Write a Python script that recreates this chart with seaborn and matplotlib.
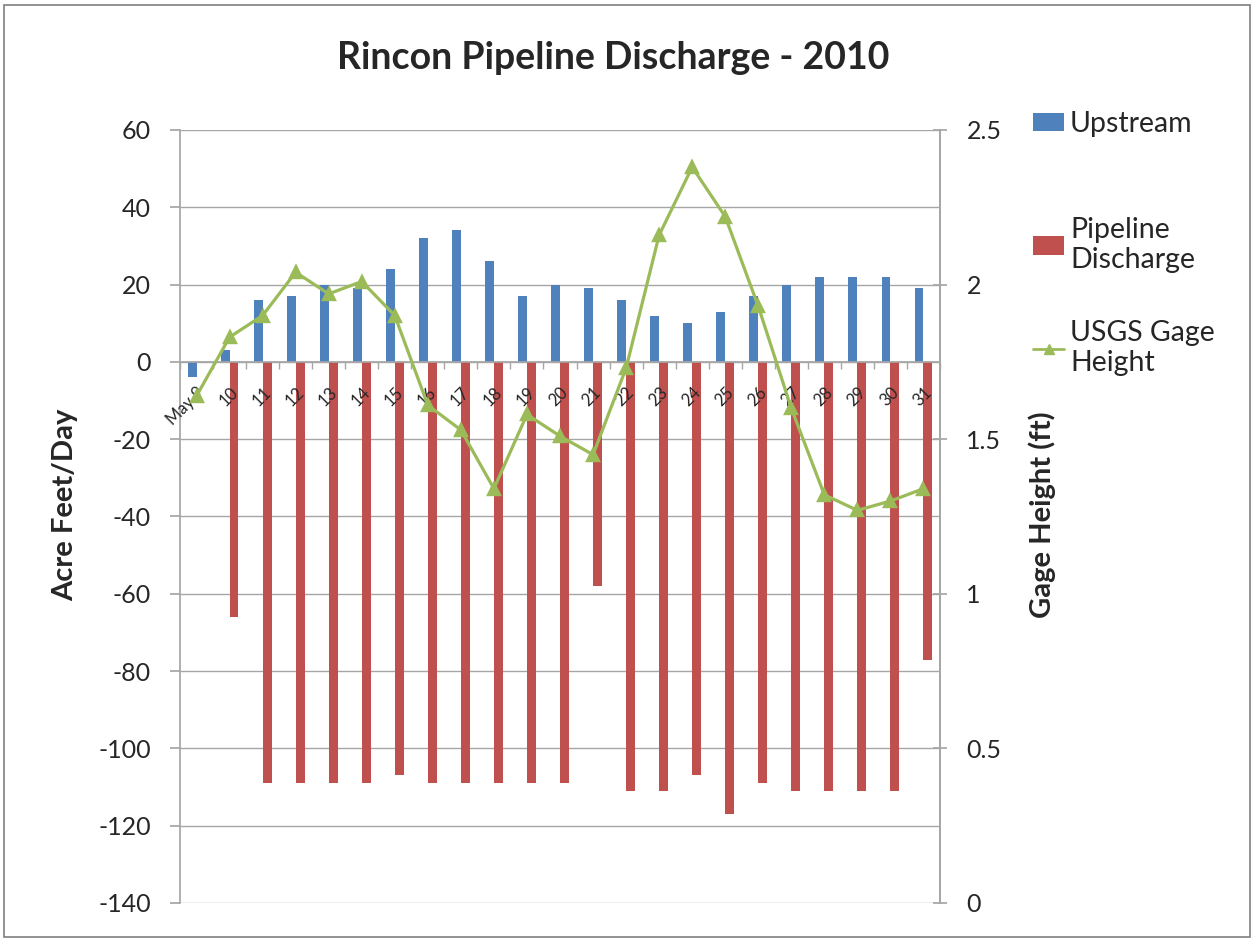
import numpy as np
import pandas as pd
import matplotlib
matplotlib.use("Agg")
import matplotlib.pyplot as plt
import matplotlib.transforms as mtransforms
from matplotlib.patches import Rectangle, Patch
from matplotlib.lines import Line2D
import seaborn as sns

days = ["May 9", "10", "11", "12", "13", "14", "15", "16", "17", "18", "19", "20",
        "21", "22", "23", "24", "25", "26", "27", "28", "29", "30", "31"]
upstream = [-4, 3, 16, 17, 20, 19, 24, 32, 34, 26, 17, 20,
            19, 16, 12, 10, 13, 17, 20, 22, 22, 22, 19]
pipeline = [0, -66, -109, -109, -109, -109, -107, -109, -109, -109, -109, -109,
            -58, -111, -111, -107, -117, -109, -111, -111, -111, -111, -77]
gage = [1.64, 1.83, 1.90, 2.04, 1.97, 2.01, 1.90, 1.61, 1.53, 1.34, 1.58, 1.51,
        1.45, 1.73, 2.16, 2.38, 2.22, 1.93, 1.60, 1.32, 1.27, 1.30, 1.34]
left_ticks = [-140, -120, -100, -80, -60, -40, -20, 0, 20, 40, 60]
right_ticks = [0, 0.5, 1, 1.5, 2, 2.5]
right_ticklabels = ["0", "0.5", "1", "1.5", "2", "2.5"]

BLUE = "#4F81BD"
RED = "#C0504D"
GREEN = "#9BBB59"
GRID = "#A6A6A6"

sns.set_theme(style="white")
plt.rcParams["font.family"] = ["Lato", "DejaVu Sans"]

df = pd.DataFrame({
    "day": days * 2,
    "series": ["Upstream"] * len(days) + ["Pipeline Discharge"] * len(days),
    "value": upstream + pipeline,
})
gdf = pd.DataFrame({"day": days, "gage": gage})

fig = plt.figure(figsize=(12.55, 9.41), dpi=100)
ax = fig.add_axes([180 / 1255, 1 - 903 / 941, (940 - 180) / 1255, (903 - 130) / 941])

sns.barplot(data=df, x="day", y="value", hue="series", order=days,
            hue_order=["Upstream", "Pipeline Discharge"],
            palette=[BLUE, RED], width=0.54, dodge=True, saturation=1,
            ax=ax, linewidth=0, legend=False, zorder=1)

ax.set_ylim(-140, 60)
ax.set_yticks(left_ticks)
ax.set_yticklabels([str(t) for t in left_ticks], fontsize=18)
ax.set_xlim(-0.5, len(days) - 0.5)
ax.grid(False)
for t in left_ticks:
    ax.axhline(t, color=GRID, linewidth=1, zorder=0.5)
ax.set_axisbelow(False)
ax.set_xlabel("")
ax.set_ylabel("")
fig.text(65 / 1255, 1 - 505 / 941, "Acre Feet/Day", rotation=90, ha="center", va="center",
         fontsize=21, fontweight="bold")

ax.spines["top"].set_visible(False)
ax.spines["left"].set_color(GRID)
ax.spines["right"].set_color(GRID)
ax.spines["bottom"].set_position(("data", 0))
ax.spines["bottom"].set_color(GRID)

ax.set_xticks(range(len(days)))
ax.set_xticklabels(days, rotation=45, ha="right", va="top", rotation_mode="anchor", fontsize=12)
offset = mtransforms.ScaledTranslation(7 / 100, 0, fig.dpi_scale_trans)
for lbl in ax.get_xticklabels():
    lbl.set_transform(lbl.get_transform() + offset)
ax.set_xticks(np.arange(-0.5, len(days), 1.0), minor=True)
ax.tick_params(axis="x", which="major", length=0, pad=16)
ax.tick_params(axis="x", which="minor", length=5, color=GRID, direction="out", bottom=True)
ax.tick_params(axis="y", length=7, color=GRID, direction="out", left=True, pad=14)

ax2 = ax.twinx()
sns.pointplot(data=gdf, x="day", y="gage", order=days, color=GREEN, markers="^",
              linestyles="-", errorbar=None, ax=ax2, markersize=9, linewidth=2.3)
ax2.set_ylim(0, 2.5)
ax2.set_yticks(right_ticks)
ax2.set_yticklabels(right_ticklabels, fontsize=18)
ax2.set_ylabel("")
fig.text(1042 / 1255, 1 - 515 / 941, "Gage Height (ft)", rotation=90, ha="center", va="center",
         fontsize=21, fontweight="bold")
ax2.set_xlim(-0.5, len(days) - 0.5)
ax2.grid(False)
for s in ["top", "left", "bottom"]:
    ax2.spines[s].set_visible(False)
ax2.spines["right"].set_color(GRID)
ax2.tick_params(axis="y", length=10, color=GRID, direction="inout", right=True, pad=14)

fig.text(613 / 1255, 1 - 58 / 941, "Rincon Pipeline Discharge - 2010", ha="center", va="center",
         fontsize=27, fontweight="bold")

entries = [
    (Patch(facecolor=BLUE, edgecolor="none"), "Upstream", 124),
    (Patch(facecolor=RED, edgecolor="none"), "Pipeline\nDischarge", 245),
    (Line2D([0], [0], color=GREEN, marker="^", markersize=7, linewidth=2), "USGS Gage\nHeight", 348),
]
for h, lab, yc in entries:
    fig.legend([h], [lab], loc="center left", bbox_to_anchor=(1033 / 1255, 1 - yc / 941),
               frameon=False, fontsize=20.5, handlelength=1.1, handleheight=0.6,
               handletextpad=0.2, borderaxespad=0, borderpad=0, labelspacing=0)

fig.patches.append(Rectangle((4 / 1255, 4 / 941), 1 - 9 / 1255, 1 - 9 / 941,
                             transform=fig.transFigure, fill=False,
                             edgecolor="#7F7F7F", linewidth=1.2))

fig.savefig("out.png", dpi=100)
